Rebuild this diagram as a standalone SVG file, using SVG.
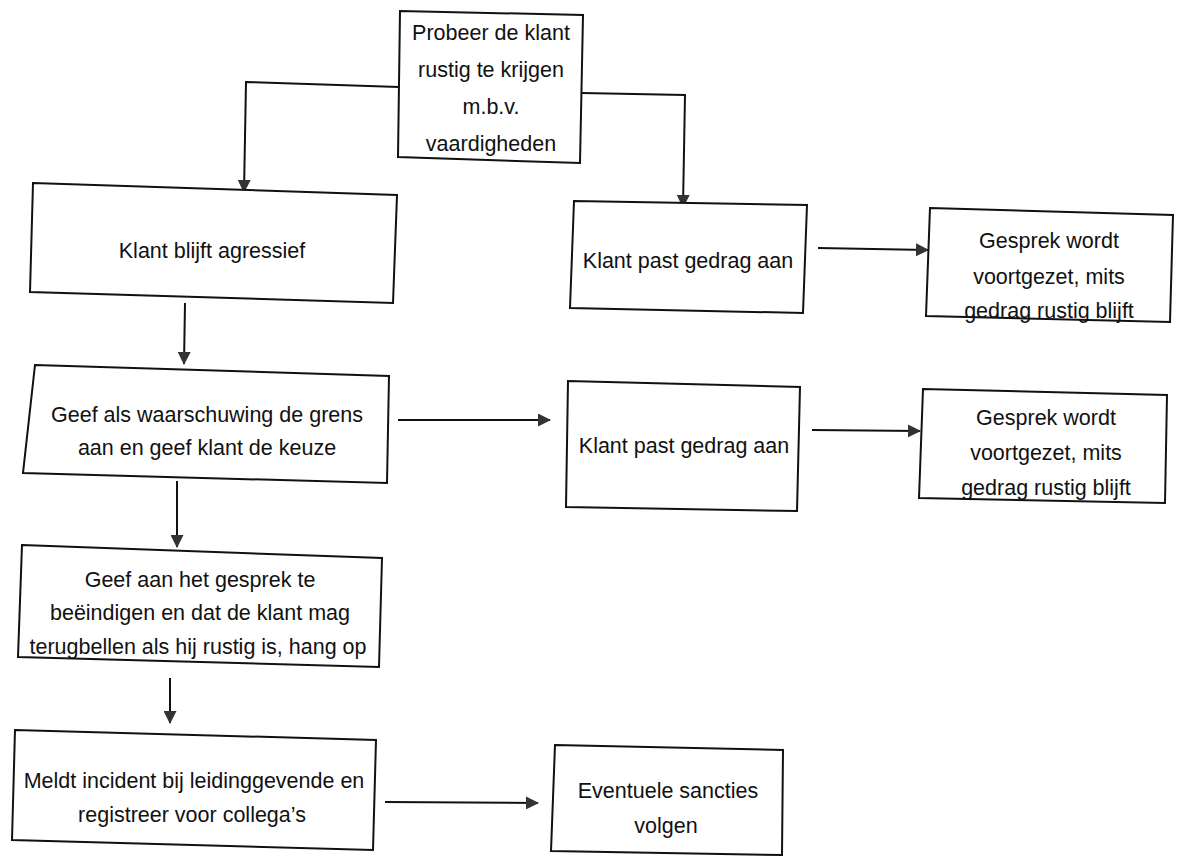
<svg xmlns="http://www.w3.org/2000/svg" width="1181" height="856" viewBox="0 0 1181 856">
  <style>
    .box { fill: #ffffff; stroke: #111111; stroke-width: 2; stroke-linejoin: miter; }
    .lbl { font-family: "Liberation Sans", Arial, sans-serif; font-size: 21.5px; fill: #111111; text-anchor: middle; }
    .conn { fill: none; stroke: #111111; stroke-width: 2; marker-end: url(#arrow); }
  </style>
  <defs>
    <marker id="arrow" markerUnits="userSpaceOnUse" markerWidth="13" markerHeight="13" refX="12" refY="6.5" orient="auto" viewBox="0 0 13 13">
      <path d="M0,0 L13,6.5 L0,13 z" fill="#333333"/>
    </marker>
  </defs>
  <rect x="0" y="0" width="1181" height="856" fill="#ffffff"/>

  <g id="connectors">
    <polyline class="conn" points="399,87 246,82 244,192"/>
    <polyline class="conn" points="582,93 685,95 683,207"/>
    <polyline class="conn" points="185,303 184,364"/>
    <polyline class="conn" points="398,420 550,420"/>
    <polyline class="conn" points="177,481 177,547"/>
    <polyline class="conn" points="170,678 170,723"/>
    <polyline class="conn" points="385,802 538,803"/>
    <polyline class="conn" points="818,248 928,250"/>
    <polyline class="conn" points="812,430 920,431"/>
  </g>

  <g id="node-probeer">
    <polygon class="box" points="400,11 583,15 580,163 398,157"/>
    <text class="lbl" x="491" y="40">Probeer de klant</text>
    <text class="lbl" x="491" y="77">rustig te krijgen</text>
    <text class="lbl" x="491" y="114">m.b.v.</text>
    <text class="lbl" x="491" y="151">vaardigheden</text>
  </g>

  <g id="node-agressief">
    <polygon class="box" points="33,183 397,195 393,303 30,292"/>
    <text class="lbl" x="212" y="258">Klant blijft agressief</text>
  </g>

  <g id="node-past1">
    <polygon class="box" points="574,201 807,205 803,313 570,308"/>
    <text class="lbl" x="688" y="268">Klant past gedrag aan</text>
  </g>

  <g id="node-gesprek1">
    <polygon class="box" points="930,208 1173,215 1170,322 926,316"/>
    <text class="lbl" x="1049" y="248">Gesprek wordt</text>
    <text class="lbl" x="1049" y="284">voortgezet, mits</text>
    <text class="lbl" x="1049" y="318">gedrag rustig blijft</text>
  </g>

  <g id="node-waarschuwing">
    <polygon class="box" points="35,365 389,376 387,483 23,473"/>
    <text class="lbl" x="207" y="422">Geef als waarschuwing de grens</text>
    <text class="lbl" x="207" y="455">aan en geef klant de keuze</text>
  </g>

  <g id="node-past2">
    <polygon class="box" points="568,381 800,387 797,511 566,507"/>
    <text class="lbl" x="684" y="453">Klant past gedrag aan</text>
  </g>

  <g id="node-gesprek2">
    <polygon class="box" points="923,389 1167,395 1165,503 919,498"/>
    <text class="lbl" x="1046" y="425">Gesprek wordt</text>
    <text class="lbl" x="1046" y="460">voortgezet, mits</text>
    <text class="lbl" x="1046" y="495">gedrag rustig blijft</text>
  </g>

  <g id="node-beeindigen">
    <polygon class="box" points="22,545 382,558 379,667 18,657"/>
    <text class="lbl" x="200" y="587">Geef aan het gesprek te</text>
    <text class="lbl" x="200" y="620">beëindigen en dat de klant mag</text>
    <text class="lbl" x="198" y="654">terugbellen als hij rustig is, hang op</text>
  </g>

  <g id="node-meldt">
    <polygon class="box" points="15,730 376,740 373,850 12,840"/>
    <text class="lbl" x="194" y="788">Meldt incident bij leidinggevende en</text>
    <text class="lbl" x="192" y="822">registreer voor collega’s</text>
  </g>

  <g id="node-sancties">
    <polygon class="box" points="555,745 783,750 782,855 551,851"/>
    <text class="lbl" x="668" y="798">Eventuele sancties</text>
    <text class="lbl" x="666" y="833">volgen</text>
  </g>
</svg>
